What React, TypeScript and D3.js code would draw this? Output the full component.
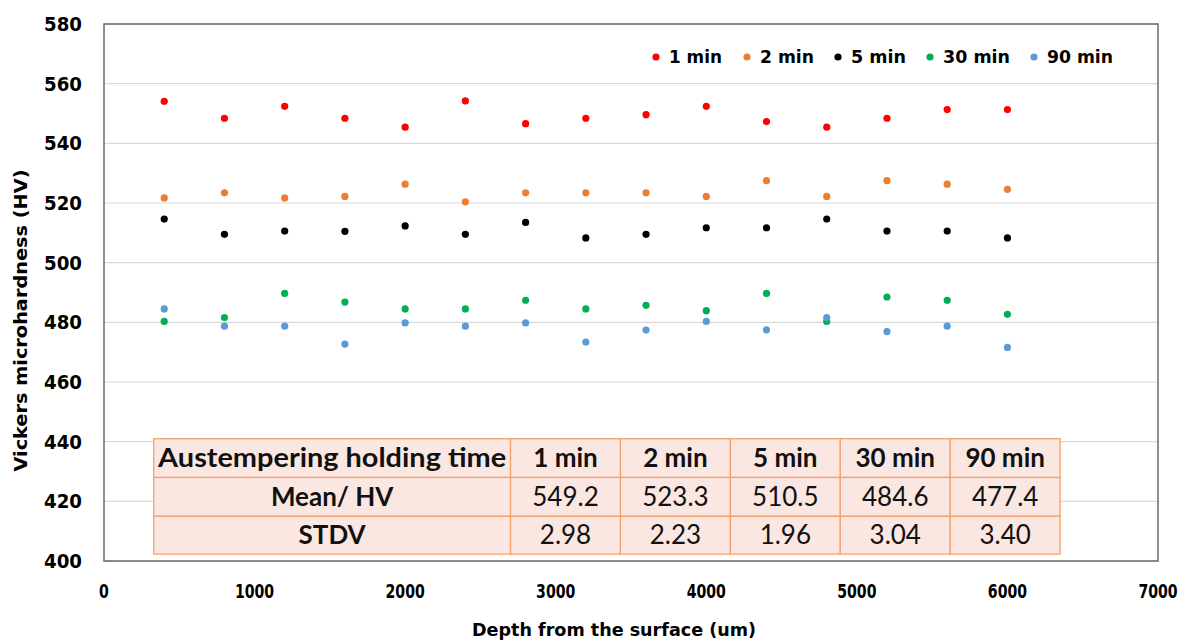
import * as d3 from 'd3'

// depth positions (um)
const depths = [400, 800, 1200, 1600, 2000, 2400, 2800, 3200, 3600, 4000, 4400, 4800, 5200, 5600, 6000]

// hardness (HV) per holding time
const hv1min = [554.1, 548.4, 552.4, 548.4, 545.4, 554.2, 546.6, 548.4, 549.6, 552.4, 547.3, 545.4, 548.4, 551.3, 551.3]
const hv2min = [521.7, 523.4, 521.7, 522.2, 526.3, 520.4, 523.4, 523.4, 523.4, 522.2, 527.5, 522.2, 527.5, 526.3, 524.6]
const hv5min = [514.6, 509.5, 510.6, 510.5, 512.3, 509.5, 513.5, 508.3, 509.5, 511.7, 511.7, 514.6, 510.6, 510.6, 508.3]
const hv30min = [480.3, 481.6, 489.7, 486.8, 484.5, 484.5, 487.4, 484.5, 485.7, 483.9, 489.7, 480.3, 488.5, 487.4, 482.7]
const hv90min = [484.5, 478.7, 478.7, 472.7, 479.8, 478.7, 479.8, 473.4, 477.4, 480.3, 477.5, 481.6, 476.9, 478.7, 471.6]

const seriesNames = ['1 min', '2 min', '5 min', '30 min', '90 min']
const seriesColors = ['#FF0000', '#ED7D31', '#000000', '#00B050', '#5B9BD5']
const seriesValues = [hv1min, hv2min, hv5min, hv30min, hv90min]

const xTicks = [0, 1000, 2000, 3000, 4000, 5000, 6000, 7000]
const yTicks = [400, 420, 440, 460, 480, 500, 520, 540, 560, 580]

// summary table
const tableHeader = ['Austempering holding time', '1 min', '2 min', '5 min', '30 min', '90 min']
const meanRow = ['Mean/ HV', '549.2', '523.3', '510.5', '484.6', '477.4']
const stdvRow = ['STDV', '2.98', '2.23', '1.96', '3.04', '3.40']

const W = 1188
const H = 640
const margin = { top: 24, right: 30, bottom: 79, left: 104 }
const plotW = W - margin.left - margin.right
const plotH = H - margin.top - margin.bottom

const boldFont = "'DejaVu Sans Condensed', 'DejaVu Sans', sans-serif"

export default function App() {
  const x = d3.scaleLinear().domain([0, 7000]).range([0, plotW])
  const y = d3.scaleLinear().domain([400, 580]).range([plotH, 0])

  // table column edges in depth units / rows in HV units
  const colEdges = [330, 2700, 3430, 4160, 4890, 5620, 6350]
  const rowEdges = [441, 428, 415, 402.3]

  const legendDots = [656, 747, 838, 930, 1034]
  const legendWidths = [53, 54, 55, 67, 66]

  return (
    <svg width={W} height={H} style={{ display: 'block', position: 'absolute', left: 0, top: 0, background: '#fff' }}>
      <g transform={`translate(${margin.left},${margin.top})`}>
        {yTicks.map((t) => (
          <line key={t} x1={0} x2={plotW} y1={y(t)} y2={y(t)} stroke="#D9D9D9" strokeWidth={1.2} />
        ))}
        <rect x={0} y={0} width={plotW} height={plotH} fill="none" stroke="#6B6B6B" strokeWidth={1.5} />

        {/* series points */}
        {seriesValues.map((vals, si) =>
          vals.map((v, i) => (
            <circle key={`${si}-${i}`} cx={x(depths[i])} cy={y(v)} r={3.6} fill={seriesColors[si]} />
          ))
        )}

        {/* summary table */}
        <g>
          {[tableHeader, meanRow, stdvRow].map((row, ri) =>
            row.map((cell, ci) => {
              const x0 = x(colEdges[ci])
              const x1 = x(colEdges[ci + 1])
              const y0 = y(rowEdges[ri])
              const y1 = y(rowEdges[ri + 1])
              const bold = ri === 0 || ci === 0
              const wide = ri === 0 && ci === 0
              return (
                <g key={`${ri}-${ci}`}>
                  <rect x={x0} y={y0} width={x1 - x0} height={y1 - y0} fill="#FBE7E1" stroke="#F4A26C" strokeWidth={1.3} />
                  <text
                    x={(x0 + x1) / 2}
                    y={(y0 + y1) / 2 + 9}
                    textAnchor="middle"
                    fontFamily="Lato, 'Open Sans', sans-serif"
                    fontSize={26}
                    fontWeight={bold ? 'bold' : 'normal'}
                    textLength={wide ? 348 : undefined}
                    lengthAdjust={wide ? 'spacingAndGlyphs' : undefined}
                    fill="#111"
                  >
                    {cell}
                  </text>
                </g>
              )
            })
          )}
        </g>

        {/* y tick labels */}
        {yTicks.map((t) => (
          <text
            key={t}
            x={-22}
            y={y(t) + 7}
            textAnchor="end"
            fontFamily="'DejaVu Sans', sans-serif"
            fontWeight="bold"
            fontSize={19}
            textLength={38}
            lengthAdjust="spacingAndGlyphs"
            fill="#000"
          >
            {t}
          </text>
        ))}

        {/* x tick labels */}
        {xTicks.map((t) => (
          <text
            key={t}
            x={x(t)}
            y={plotH + 37}
            textAnchor="middle"
            fontFamily={boldFont}
            fontWeight="bold"
            fontSize={19}
            textLength={String(t).length * 9.8}
            lengthAdjust="spacingAndGlyphs"
            fill="#000"
          >
            {t}
          </text>
        ))}
      </g>

      {/* axis titles */}
      <text
        transform={`translate(27,${margin.top + plotH / 2 + 28}) rotate(-90)`}
        textAnchor="middle"
        fontFamily={boldFont}
        fontWeight="bold"
        fontSize={17}
        textLength={302}
        lengthAdjust="spacingAndGlyphs"
        fill="#000"
      >
        Vickers microhardness (HV)
      </text>
      <text
        x={614}
        y={636}
        textAnchor="middle"
        fontFamily={boldFont}
        fontWeight="bold"
        fontSize={17}
        textLength={284}
        lengthAdjust="spacingAndGlyphs"
        fill="#000"
      >
        Depth from the surface (um)
      </text>

      {/* legend */}
      {seriesNames.map((name, i) => (
        <g key={name}>
          <circle cx={legendDots[i]} cy={57} r={3.6} fill={seriesColors[i]} />
          <text
            x={legendDots[i] + 13}
            y={63}
            fontFamily={boldFont}
            fontWeight="bold"
            fontSize={18}
            textLength={legendWidths[i]}
            lengthAdjust="spacingAndGlyphs"
            fill="#000"
          >
            {name}
          </text>
        </g>
      ))}
    </svg>
  )
}
